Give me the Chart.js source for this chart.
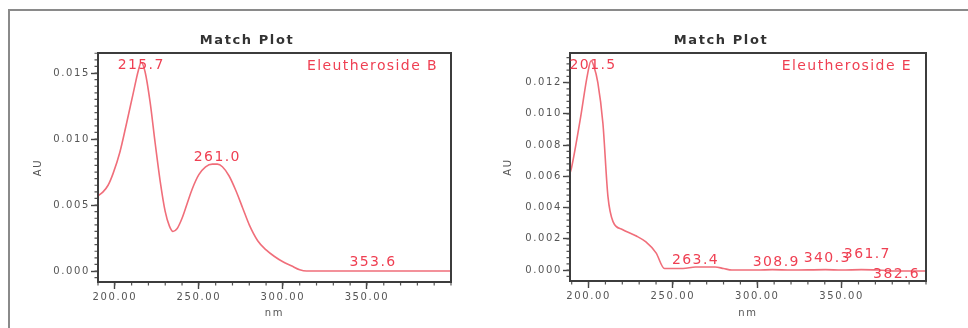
<!DOCTYPE html>
<html>
<head>
<meta charset="utf-8">
<script src="https://cdn.jsdelivr.net/npm/chart.js@4.4.0/dist/chart.umd.min.js"></script>
<style>
    body { margin: 0; background: #fff; width: 968px; height: 328px; overflow: hidden; position: relative; }
    #frame { position: absolute; left: 8px; top: 9px; right: -4px; bottom: -4px;
             border-top: 2px solid #8a8a8a; border-left: 2px solid #8a8a8a; }
    .box { position: absolute; top: 10px; width: 474px; height: 318px; }
</style>
</head>
<body>
<div id="frame"></div>
<div class="box" style="left:10px"><canvas id="chartB" width="474" height="318"></canvas></div>
<div class="box" style="left:484px"><canvas id="chartE" width="474" height="318"></canvas></div>

<script>
// ------------------------------------------------------------------
// DATA
// ------------------------------------------------------------------
const nmB = [190, 193, 196, 199, 203, 207, 211, 214, 215.7, 218, 221, 224, 227, 230, 232.5, 234.6,
             237, 240, 243, 246, 250, 254, 258, 261, 264, 268, 272, 276, 280, 285, 290, 295,
             300, 305, 310, 314, 320, 340, 353.6, 370, 400];
const auB = [0.0057, 0.0060, 0.0065, 0.0074, 0.0090, 0.0112, 0.0135, 0.0152, 0.0158, 0.0151, 0.0128, 0.0097, 0.0068, 0.0045, 0.0034, 0.0030,
             0.0032, 0.0040, 0.0051, 0.0062, 0.0073, 0.0079, 0.0081, 0.0081, 0.0079, 0.0072, 0.0061, 0.0048, 0.0035, 0.0023, 0.0016, 0.0011,
             0.0007, 0.0004, 0.0001, 0.0000, 0.0000, 0.0000, 0.0000, 0.0000, 0.0000];
const peakNmB = [215.7, 261.0, 353.6];
const peakAuB = [0.0158, 0.0081, 0.0000];

const nmE = [189, 190, 195, 199.5, 201.5, 203, 205.5, 208.5, 211.5, 214.5, 220, 228, 234, 240, 245,
             250, 256, 263.4, 270, 275, 280, 285, 300, 308.9, 320, 340.3, 350, 361.7, 372, 382.6, 400];
const auE = [0.0062, 0.0066, 0.0096, 0.0126, 0.0134, 0.0131, 0.0120, 0.0094, 0.0047, 0.0031, 0.0026, 0.0022, 0.0018, 0.0011, 0.0001,
             0.0001, 0.0001, 0.0002, 0.0002, 0.0002, 0.0001, 0.0000, 0.0000, 0.00003, 0.0000, 0.00003, 0.0000, 0.00003, 0.0000, -0.00006, -0.00006];
const peakNmE = [201.5, 263.4, 308.9, 340.3, 361.7, 382.6];
const peakAuE = [0.0134, 0.0002, 0.0000, 0.0000, 0.0000, -0.00006];

const xTicks = [200, 250, 300, 350];
const yTicksB = [0.000, 0.005, 0.010, 0.015];
const yTicksE = [0.000, 0.002, 0.004, 0.006, 0.008, 0.010, 0.012];

const TXT_RED = "#ef3f52";
const LINE_RED = "rgb(240,110,122)";
const FONT = "'DejaVu Sans', sans-serif";

// ------------------------------------------------------------------
// plugin: frame, title, legend text, peak labels, minor ticks
// ------------------------------------------------------------------
const decoPlugin = {
    id: "deco",
    beforeDraw(chart) {
        chart.ctx.letterSpacing = "1.6px";
    },
    afterDraw(chart, args, o) {
        const ctx = chart.ctx;
        const a = chart.chartArea;
        const xs = chart.scales.x, ys = chart.scales.y;
        ctx.save();

        // minor ticks
        ctx.strokeStyle = "#555";
        ctx.lineWidth = 1.2;
        ctx.beginPath();
        for (let v = Math.ceil(xs.min / 10) * 10; v <= xs.max; v += 10) {
            const px = xs.getPixelForValue(v);
            ctx.moveTo(px, a.bottom);
            ctx.lineTo(px, a.bottom + 3.5);
        }
        const n = Math.floor((ys.max - 0) / o.yMinor);
        for (let i = -2; i <= n; i++) {
            const v = i * o.yMinor;
            if (v < ys.min) continue;
            const py = ys.getPixelForValue(v);
            ctx.moveTo(a.left, py);
            ctx.lineTo(a.left - 3.5, py);
        }
        ctx.stroke();

        // plot box
        ctx.strokeStyle = "#3c3c3c";
        ctx.lineWidth = 2;
        ctx.strokeRect(a.left, a.top, a.right - a.left, a.bottom - a.top);

        // title
        ctx.letterSpacing = "1.6px";
        ctx.fillStyle = "#333";
        ctx.font = "bold 13px " + FONT;
        ctx.textAlign = "center";
        ctx.textBaseline = "alphabetic";
        ctx.fillText("Match Plot", chart.width / 2, 34);

        // legend text
        ctx.letterSpacing = "1.4px";
        ctx.fillStyle = TXT_RED;
        ctx.font = "14px " + FONT;
        ctx.textAlign = "right";
        ctx.fillText(o.name, a.right - o.nameRight, a.top + 17);

        // peak labels
        ctx.beginPath();
        ctx.rect(a.left, a.top, a.right - a.left, a.bottom - a.top);
        ctx.clip();
        ctx.textAlign = "center";
        o.peaksNm.forEach((nm, i) => {
            const px = xs.getPixelForValue(nm) + (o.dx[i] || 0);
            let py = ys.getPixelForValue(o.peaksAu[i]) + o.dy[i];
            py = Math.max(py, a.top + 16);
            ctx.fillText(nm.toFixed(1), px, py);
        });
        ctx.restore();
    }
};

// ------------------------------------------------------------------
function makeChart(id, nm, au, cfg) {
    const ctx = document.getElementById(id).getContext("2d");
    return new Chart(ctx, {
        type: "line",
        data: {
            datasets: [{
                data: nm.map((x, i) => ({ x: x, y: au[i] })),
                borderColor: LINE_RED,
                borderWidth: 1.6,
                pointRadius: 0,
                cubicInterpolationMode: "monotone",
                fill: false
            }]
        },
        options: {
            responsive: false,
            animation: false,
            layout: { padding: { left: 0, top: 43, right: cfg.padRight, bottom: 0 } },
            plugins: {
                legend: { display: false },
                tooltip: { enabled: false },
                title: { display: false },
                deco: cfg.deco
            },
            scales: {
                x: {
                    type: "linear",
                    min: cfg.xMin, max: cfg.xMax,
                    afterBuildTicks: s => { s.ticks = xTicks.map(v => ({ value: v })); },
                    afterFit: s => { s.height = cfg.xHeight; },
                    border: { display: false },
                    grid: { drawOnChartArea: false, tickLength: 7, tickColor: "#444", tickWidth: 1.4 },
                    ticks: {
                        color: "#555", padding: 2, maxRotation: 0,
                        font: { family: FONT, size: 10 },
                        callback: v => v.toFixed(2)
                    },
                    title: {
                        display: true, text: "nm", color: "#555",
                        font: { family: FONT, size: 10 },
                        padding: { top: 9, bottom: 9 }
                    }
                },
                y: {
                    type: "linear",
                    min: cfg.yMin, max: cfg.yMax,
                    afterBuildTicks: s => { s.ticks = cfg.yTicks.map(v => ({ value: v })); },
                    afterFit: s => { s.width = cfg.yWidth; },
                    border: { display: false },
                    grid: { drawOnChartArea: false, tickLength: 7, tickColor: "#444", tickWidth: 1.4 },
                    ticks: {
                        color: "#555", padding: 1,
                        font: { family: FONT, size: 10 },
                        callback: v => v.toFixed(3)
                    },
                    title: {
                        display: true, text: "AU", color: "#555",
                        font: { family: FONT, size: 10 },
                        padding: { top: cfg.auPad, bottom: 0 }
                    }
                }
            }
        },
        plugins: [decoPlugin]
    });
}

makeChart("chartB", nmB, auB, {
    padRight: 33, xHeight: 46, yWidth: 88, auPad: 22,
    xMin: 190, xMax: 400, yMin: -0.00083, yMax: 0.01652, yTicks: yTicksB,
    deco: {
        name: "Eleutheroside B", nameRight: 13, yMinor: 0.0005,
        peaksNm: peakNmB, peaksAu: peakAuB,
        dx: [0, 0, 0], dy: [-4, -3, -5]
    }
});

makeChart("chartE", nmE, auE, {
    padRight: 32, xHeight: 47, yWidth: 86, auPad: 18,
    xMin: 189, xMax: 400, yMin: -0.0007, yMax: 0.0139, yTicks: yTicksE,
    deco: {
        name: "Eleutheroside E", nameRight: 14, yMinor: 0.0004,
        peaksNm: peakNmE, peaksAu: peakAuE,
        dx: [2, 0, 4, 2, 6, 0], dy: [-4, -3, -4, -8, -12, 7]
    }
});
</script>
</body>
</html>
